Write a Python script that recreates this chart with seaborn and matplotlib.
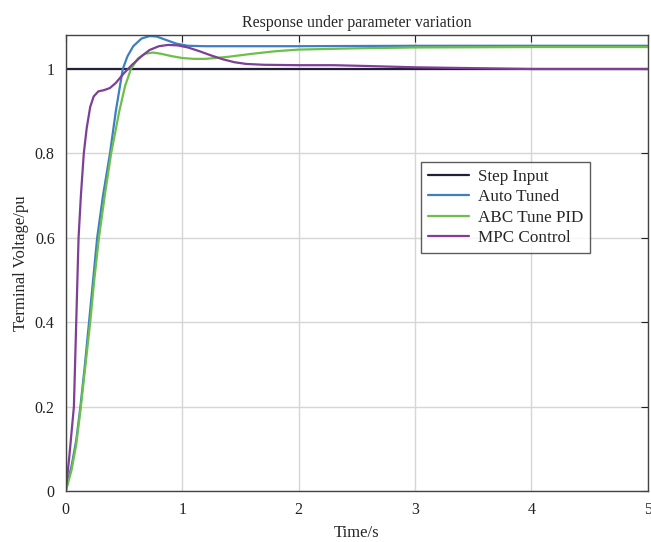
import numpy as np
import pandas as pd
import matplotlib
matplotlib.use("Agg")
import matplotlib.pyplot as plt
import seaborn as sns

series_names = ["Step Input", "Auto Tuned", "ABC Tune PID", "MPC Control"]

step_t = [0.0, 5.0]
step_y = [1.0, 1.0]

auto_t = [0, 0.05, 0.09, 0.126, 0.165, 0.2, 0.235, 0.27, 0.32, 0.38, 0.43, 0.49, 0.53, 0.58,
          0.65, 0.72, 0.78, 0.85, 0.95, 1.05, 1.2, 1.5, 2.0, 3.0, 4.0, 5.0]
auto_y = [0, 0.06, 0.12, 0.2, 0.3, 0.4, 0.5, 0.6, 0.7, 0.8, 0.9, 1.0, 1.03, 1.054,
          1.072, 1.078, 1.077, 1.07, 1.06, 1.055, 1.054, 1.054, 1.054, 1.055, 1.055, 1.055]

abc_t = [0, 0.05, 0.09, 0.13, 0.17, 0.21, 0.245, 0.285, 0.335, 0.39, 0.46, 0.51, 0.56, 0.62,
         0.68, 0.75, 0.82, 0.9, 1.0, 1.1, 1.2, 1.4, 1.6, 1.8, 2.0, 2.5, 3.0, 4.0, 5.0]
abc_y = [0, 0.05, 0.11, 0.2, 0.3, 0.4, 0.5, 0.6, 0.7, 0.8, 0.9, 0.96, 1.0, 1.025,
         1.036, 1.039, 1.036, 1.031, 1.026, 1.024, 1.024, 1.029, 1.036, 1.042, 1.046, 1.049, 1.051, 1.052, 1.052]

mpc_t = [0, 0.03, 0.05, 0.07, 0.08, 0.09, 0.1, 0.11, 0.13, 0.155, 0.18, 0.21, 0.24, 0.28, 0.33,
         0.38, 0.43, 0.5, 0.57, 0.65, 0.72, 0.8, 0.88, 0.96, 1.05, 1.15, 1.25, 1.35, 1.45, 1.55,
         1.7, 2.0, 2.3, 2.6, 3.0, 3.5, 4.0, 5.0]
mpc_y = [0, 0.08, 0.14, 0.2, 0.3, 0.4, 0.5, 0.6, 0.7, 0.8, 0.86, 0.91, 0.935, 0.947, 0.95,
         0.955, 0.967, 0.99, 1.01, 1.03, 1.045, 1.054, 1.057, 1.056, 1.051, 1.042, 1.032, 1.023, 1.016, 1.012,
         1.010, 1.009, 1.009, 1.007, 1.004, 1.002, 1.0, 1.0]

colors = ["#202038", "#3d7fc2", "#6cc04a", "#7e3f96"]

frames = []
for name, t, y in zip(series_names, [step_t, auto_t, abc_t, mpc_t], [step_y, auto_y, abc_y, mpc_y]):
    frames.append(pd.DataFrame({"Time": t, "Value": y, "Series": name}))
df = pd.concat(frames, ignore_index=True)

sns.set_style("white")
plt.rcParams["font.family"] = ["Liberation Serif", "DejaVu Serif"]

fig = plt.figure(figsize=(6.51, 5.42), dpi=100)
ax = fig.add_axes([0.101, 0.094, 0.894, 0.841])

sns.lineplot(data=df, x="Time", y="Value", hue="Series", hue_order=series_names,
             palette=colors, linewidth=1.6, estimator=None, sort=True, ax=ax)

ax.set_xlim(0, 5)
ax.set_ylim(0, 1.08)
ax.set_xticks([0, 1, 2, 3, 4, 5])
ax.set_yticks([0, 0.2, 0.4, 0.6, 0.8, 1.0])
ax.set_yticklabels(["0", "0.2", "0.4", "0.6", "0.8", "1"])
ax.grid(True, color="#d6d6d6", linewidth=1.0)
ax.tick_params(direction="in", top=True, right=True, length=5, labelsize=11.5, colors="#222222")
ax.tick_params(axis="x", pad=8)
ax.tick_params(axis="y", pad=8)
for s in ax.spines.values():
    s.set_color("#444444")
    s.set_linewidth(1.0)

ax.set_title("Response under parameter variation", fontsize=11.5, pad=6)
ax.set_xlabel("Time/s", fontsize=12, labelpad=5)
ax.set_ylabel("Terminal Voltage/pu", fontsize=12, labelpad=4)

leg = ax.legend(loc="upper left", bbox_to_anchor=(0.596, 0.741), fontsize=12.3,
                frameon=True, fancybox=False, edgecolor="#333333", handlelength=2.4,
                borderpad=0.4, labelspacing=0.26, handletextpad=0.5, title=None)
leg.get_frame().set_linewidth(1.0)

fig.savefig("out.png", dpi=100)
